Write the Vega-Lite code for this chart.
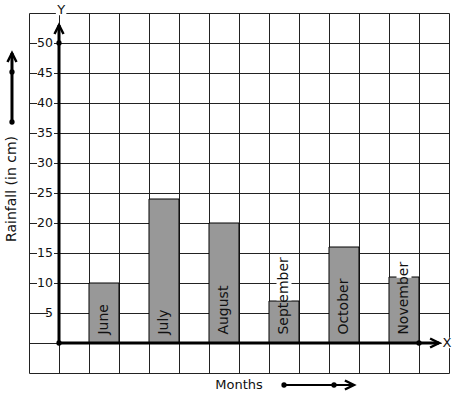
{
  "$schema": "https://vega.github.io/schema/vega-lite/v6.json",
  "width": 420,
  "height": 360,
  "padding": {"left": 29, "top": 13, "right": 8, "bottom": 26},
  "autosize": {"type": "none"},
  "background": "white",
  "config": {"view": {"stroke": null}, "font": "DejaVu Sans", "text": {"font": "DejaVu Sans", "color": "#111"}, "scale": {"continuousPadding": 0}},
  "datasets": {
    "rain": [
      {"month": "June", "from": 1, "to": 2, "mid": 1.5, "rain": 10},
      {"month": "July", "from": 3, "to": 4, "mid": 3.5, "rain": 24},
      {"month": "August", "from": 5, "to": 6, "mid": 5.5, "rain": 20},
      {"month": "September", "from": 7, "to": 8, "mid": 7.5, "rain": 7},
      {"month": "October", "from": 9, "to": 10, "mid": 9.5, "rain": 16},
      {"month": "November", "from": 11, "to": 12, "mid": 11.5, "rain": 11}
    ],
    "yticks": [{"v": 5}, {"v": 10}, {"v": 15}, {"v": 20}, {"v": 25}, {"v": 30}, {"v": 35}, {"v": 40}, {"v": 45}, {"v": 50}],
    "dots": [
      {"x": 0, "y": 0}, {"x": 0, "y": 50}, {"x": 12, "y": 0},
      {"x": -1.567, "y": 45.17}, {"x": -1.567, "y": 36.83},
      {"x": 7.5, "y": -7}, {"x": 9.167, "y": -7}
    ],
    "thick": [
      {"x": 0, "y": 0, "x2": 0, "y2": 53},
      {"x": 0, "y": 0, "x2": 12.67, "y2": 0},
      {"x": -1.567, "y": 36.83, "x2": -1.567, "y2": 48.33}
    ],
    "thin": [{"x": 7.5, "y": -7, "x2": 9.83, "y2": -7}],
    "up": [{"x": 0, "y": 53}, {"x": -1.567, "y": 48.33}],
    "right": [{"x": 12.67, "y": 0}, {"x": 9.83, "y": -7}]
  },
  "layer": [
    {
      "data": {"name": "rain"},
      "mark": {"type": "bar", "fill": "#989898", "stroke": "#000", "strokeWidth": 1, "orient": "vertical"},
      "encoding": {
        "x": {"field": "from", "type": "quantitative",
          "scale": {"domain": [-1, 13], "nice": false, "zero": false, "padding": 0},
          "axis": {"grid": true, "tickCount": 30, "values": [-1,0,1,2,3,4,5,6,7,8,9,10,11,12,13], "gridColor": "#222", "gridWidth": 1, "gridOpacity": 1, "domain": false, "ticks": false, "labels": false, "title": null}},
        "x2": {"field": "to"},
        "y": {"field": "rain", "type": "quantitative", "stack": null,
          "scale": {"domain": [-5, 55], "nice": false, "zero": false, "padding": 0},
          "axis": {"grid": true, "tickCount": 30, "values": [-5,0,5,10,15,20,25,30,35,40,45,50,55], "gridColor": "#222", "gridWidth": 1, "gridOpacity": 1, "domain": false, "ticks": false, "labels": false, "title": null}},
        "y2": {"datum": 0}
      }
    },
    {
      "data": {"name": "rain"},
      "transform": [{"filter": "datum.month == 'September'"}],
      "mark": {"type": "bar", "fill": "white", "strokeWidth": 0, "orient": "vertical", "size": 15},
      "encoding": {
        "x": {"field": "mid", "type": "quantitative"},
        "y": {"datum": 7.1, "type": "quantitative"},
        "y2": {"datum": 14.6}
      }
    },
    {
      "data": {"name": "rain"},
      "transform": [{"filter": "datum.month == 'November'"}],
      "mark": {"type": "bar", "fill": "white", "strokeWidth": 0, "orient": "vertical", "size": 15},
      "encoding": {
        "x": {"field": "mid", "type": "quantitative"},
        "y": {"datum": 10.85, "type": "quantitative"},
        "y2": {"datum": 13.5}
      }
    },
    {
      "data": {"name": "rain"},
      "mark": {"type": "text", "angle": 270, "align": "left", "baseline": "middle", "fontSize": 14},
      "encoding": {
        "x": {"field": "mid", "type": "quantitative"},
        "y": {"datum": 1.4, "type": "quantitative"},
        "text": {"field": "month"}
      }
    },
    {
      "data": {"name": "yticks"},
      "transform": [{"filter": "datum.v >= 10"}],
      "mark": {"type": "point", "shape": "M-0.85,-0.6H0.85V0.6H-0.85Z", "filled": true, "fill": "white", "strokeWidth": 0, "size": 400, "opacity": 1},
      "encoding": {
        "x": {"datum": -0.45, "type": "quantitative"},
        "y": {"field": "v", "type": "quantitative"}
      }
    },
    {
      "data": {"name": "yticks"},
      "transform": [{"filter": "datum.v < 10"}],
      "mark": {"type": "point", "shape": "M-0.5,-0.6H0.5V0.6H-0.5Z", "filled": true, "fill": "white", "strokeWidth": 0, "size": 400, "opacity": 1},
      "encoding": {
        "x": {"datum": -0.2, "type": "quantitative"},
        "y": {"field": "v", "type": "quantitative"}
      }
    },
    {
      "data": {"name": "yticks"},
      "mark": {"type": "text", "align": "right", "baseline": "middle", "fontSize": 12.5},
      "encoding": {
        "x": {"datum": -0.2, "type": "quantitative"},
        "y": {"field": "v", "type": "quantitative"},
        "text": {"field": "v"}
      }
    },
    {
      "data": {"values": [{"label": "Y", "x": 0.07, "y": 55.5}, {"label": "X", "x": 12.93, "y": 0}]},
      "mark": {"type": "point", "shape": "square", "filled": true, "fill": "white", "strokeWidth": 0, "size": 110, "opacity": 1},
      "encoding": {
        "x": {"field": "x", "type": "quantitative"},
        "y": {"field": "y", "type": "quantitative"}
      }
    },
    {
      "data": {"values": [{"label": "Y", "x": 0.07, "y": 55.5}, {"label": "X", "x": 12.93, "y": 0}]},
      "mark": {"type": "text", "align": "center", "baseline": "middle", "fontSize": 13},
      "encoding": {
        "x": {"field": "x", "type": "quantitative"},
        "y": {"field": "y", "type": "quantitative"},
        "text": {"field": "label"}
      }
    },
    {
      "data": {"name": "thick"},
      "mark": {"type": "rule", "stroke": "#000", "strokeWidth": 3},
      "encoding": {
        "x": {"field": "x", "type": "quantitative"},
        "y": {"field": "y", "type": "quantitative"},
        "x2": {"field": "x2"},
        "y2": {"field": "y2"}
      }
    },
    {
      "data": {"name": "thin"},
      "mark": {"type": "rule", "stroke": "#000", "strokeWidth": 2},
      "encoding": {
        "x": {"field": "x", "type": "quantitative"},
        "y": {"field": "y", "type": "quantitative"},
        "x2": {"field": "x2"},
        "y2": {"field": "y2"}
      }
    },
    {
      "data": {"name": "up"},
      "mark": {"type": "point", "shape": "M-1,2L0,0L1,2", "filled": false, "stroke": "#000", "strokeWidth": 2.5, "size": 81, "opacity": 1},
      "encoding": {
        "x": {"field": "x", "type": "quantitative"},
        "y": {"field": "y", "type": "quantitative"}
      }
    },
    {
      "data": {"name": "right"},
      "mark": {"type": "point", "shape": "M-2,-1L0,0L-2,1", "filled": false, "stroke": "#000", "strokeWidth": 2.5, "size": 81, "opacity": 1},
      "encoding": {
        "x": {"field": "x", "type": "quantitative"},
        "y": {"field": "y", "type": "quantitative"}
      }
    },
    {
      "data": {"name": "dots"},
      "mark": {"type": "circle", "fill": "#000", "size": 28, "opacity": 1},
      "encoding": {
        "x": {"field": "x", "type": "quantitative"},
        "y": {"field": "y", "type": "quantitative"}
      }
    },
    {
      "data": {"values": [{"t": "Rainfall (in cm)"}]},
      "mark": {"type": "text", "angle": 270, "align": "center", "baseline": "middle", "fontSize": 14},
      "encoding": {
        "x": {"datum": -1.567, "type": "quantitative"},
        "y": {"datum": 25.67, "type": "quantitative"},
        "text": {"field": "t"}
      }
    },
    {
      "data": {"values": [{"t": "Months"}]},
      "mark": {"type": "text", "align": "center", "baseline": "middle", "fontSize": 13},
      "encoding": {
        "x": {"datum": 6, "type": "quantitative"},
        "y": {"datum": -7, "type": "quantitative"},
        "text": {"field": "t"}
      }
    }
  ]
}
